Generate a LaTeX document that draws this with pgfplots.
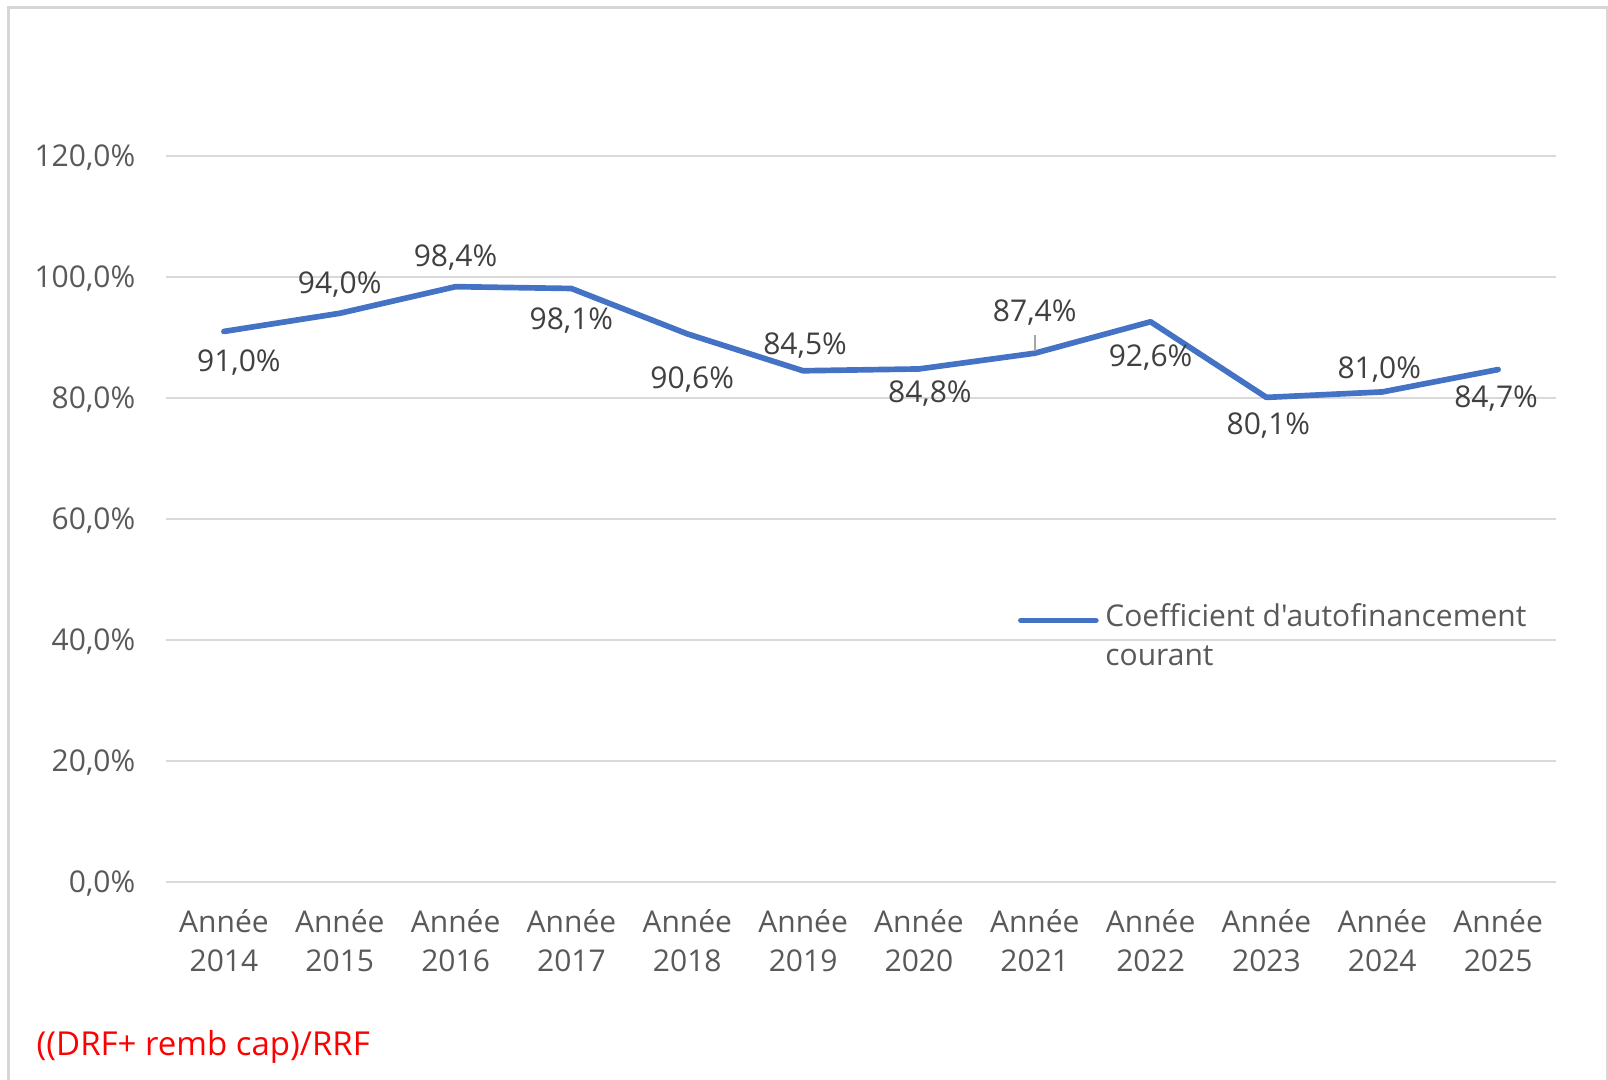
\documentclass[border=0pt]{standalone}
\usepackage{fontspec}
\setmainfont{Open Sans}[Ligatures=TeXOff]
\usepackage{pgfplots}
\usepackage{pgfplotstable}
\pgfplotsset{compat=1.18}
\definecolor{xlblue}{RGB}{68,114,196}
\definecolor{gridc}{RGB}{217,217,217}
\definecolor{txtc}{RGB}{89,89,89}
\definecolor{lblc}{RGB}{64,64,64}
\definecolor{framec}{RGB}{214,214,214}
\definecolor{leaderc}{RGB}{166,166,166}

\pgfplotstableread{
x y dx dy
0 91.0 4.5 -9.45
1 94.0 0 8.7
2 98.4 0 8.6
3 98.1 0 -9.75
4 90.6 1.5 -13.8
5 84.5 0.6 7.5
6 84.8 3.3 -7.5
7 87.4 0 12.1
8 92.6 0 -10.8
9 80.1 0.6 -8.4
10 81.0 -0.9 6.6
11 84.7 -0.6 -8.7
}\datatable

\begin{document}
\begin{tikzpicture}[font=\fontsize{9}{11.7}\selectfont]
\path[use as bounding box] (0,0) rectangle (482.4pt,324pt);
\draw[framec, line width=0.9pt] (2.55pt,0) -- (2.55pt,321.75pt) -- (482.1pt,321.75pt) -- (482.1pt,0);
\begin{axis}[
  at={(49.8pt,59.4pt)}, anchor=south west,
  scale only axis, width=417pt, height=217.8pt,
  xmin=-0.5, xmax=11.5, ymin=0, ymax=120,
  axis line style={draw=none},
  tick style={draw=none},
  ymajorgrids, grid style={gridc, line width=0.45pt},
  ytick={0,20,40,60,80,100,120},
  yticklabels={{0,0\%},{20,0\%},{40,0\%},{60,0\%},{80,0\%},{100,0\%},{120,0\%}},
  yticklabel style={text=txtc, xshift=-5.7pt, yshift=-0.6pt},
  xtick={0,...,11},
  xticklabels={Année\\2014,Année\\2015,Année\\2016,Année\\2017,Année\\2018,Année\\2019,Année\\2020,Année\\2021,Année\\2022,Année\\2023,Année\\2024,Année\\2025},
  xticklabel style={text=txtc, align=center, yshift=-4.6pt},
  /pgf/number format/assume math mode=true,
  legend style={at={(0.6125,0.394)}, anchor=north west, draw=none, fill=none,
    inner sep=0pt, column sep=0pt, cells={align=left, text=txtc}},
  legend cell align=left,
  legend image code/.code={\draw[#1, line width=1.7pt, line cap=round] (0pt,4.9pt) -- (22.5pt,4.9pt);},
]
\addplot[xlblue, line width=1.7pt, line join=round, line cap=round,
  point meta=y,
  visualization depends on={\thisrow{dx} \as \dx},
  visualization depends on={\thisrow{dy} \as \dy},
  nodes near coords={\pgfmathprintnumber[fixed,fixed zerofill,precision=1,use comma]{\pgfplotspointmeta}\%},
  nodes near coords style={anchor=center, xshift=\dx pt, yshift=\dy pt, text=lblc, font=\fontsize{9}{11.7}\selectfont},
] table[x=x,y=y] {\datatable};
\addlegendentry{Coefficient d'autofinancement\\courant}
\addplot[leaderc, line width=0.5pt, forget plot] coordinates {(7,87.8) (7,90.4)};
\end{axis}
\node[anchor=west, inner sep=0pt, text=red, font=\fontsize{9.9}{12}\selectfont] at (10.8pt,9.9pt) {((DRF+ remb cap)/RRF};
\end{tikzpicture}
\end{document}
